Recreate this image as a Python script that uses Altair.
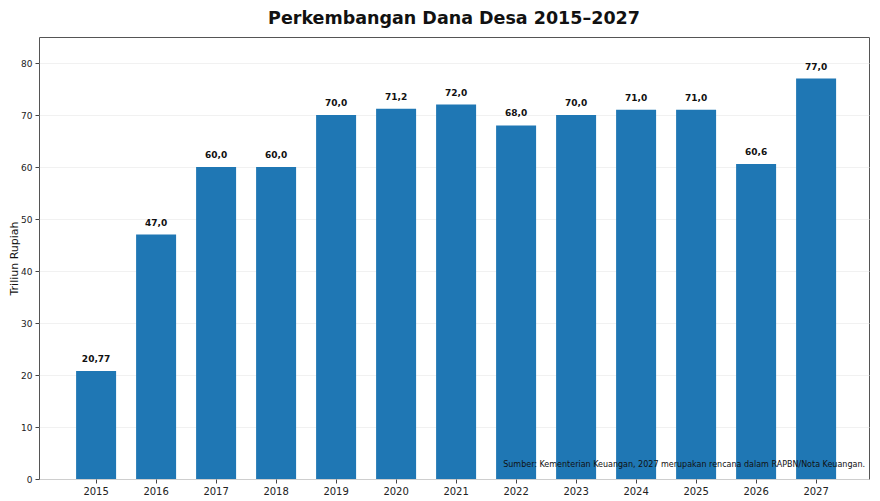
import altair as alt
import pandas as pd

years = ["2015", "2016", "2017", "2018", "2019", "2020", "2021", "2022", "2023", "2024", "2025", "2026", "2027"]
values = [20.77, 47.0, 60.0, 60.0, 70.0, 71.2, 72.0, 68.0, 70.0, 71.0, 71.0, 60.6, 77.0]
labels = ["20,77", "47,0", "60,0", "60,0", "70,0", "71,2", "72,0", "68,0", "70,0", "71,0", "71,0", "60,6", "77,0"]
title_text = "Perkembangan Dana Desa 2015–2027"
y_title = "Triliun Rupiah"
source_text = "Sumber: Kementerian Keuangan, 2027 merupakan rencana dalam RAPBN/Nota Keuangan."

df = pd.DataFrame({"year": years, "value": values, "label": labels})

W, H = 830, 442
FONT = "DejaVu Sans"

x = alt.X("year:N", title=None, sort=years,
          scale=alt.Scale(paddingInner=0.3333, paddingOuter=0.5833, align=0.53),
          axis=alt.Axis(labelAngle=0, labelFontSize=10, labelColor="#222", tickColor="#444",
                        tickSize=4, domain=False, labelPadding=3))
y = alt.Y("value:Q", title=y_title,
          scale=alt.Scale(domain=[0, 85], nice=False, zero=True),
          axis=alt.Axis(values=[0, 10, 20, 30, 40, 50, 60, 70, 80], labelFontSize=9, labelColor="#222",
                        tickColor="#444", tickSize=4, domain=False, grid=True, gridColor="#eeeeee",
                        gridWidth=0.8, titleFontSize=11, titleFontWeight="normal", titleColor="#111",
                        titlePadding=1, labelPadding=3))

base = alt.Chart(df)
bars = base.mark_bar(color="#1f77b4").encode(x=x, y=y)
text = base.mark_text(dy=-7, fontSize=9, fontWeight="bold", font=FONT, color="#111", baseline="bottom").encode(
    x=alt.X("year:N", sort=years), y="value:Q", text="label:N")
src = alt.Chart(pd.DataFrame({"t": [source_text]})).mark_text(
    align="right", baseline="middle", fontSize=8, font=FONT, color="#111").encode(
    x=alt.value(W - 4), y=alt.value(H - 14), text="t:N")

chart = alt.layer(bars, text, src).properties(
    width=W, height=H,
    title=alt.TitleParams(title_text, fontSize=17.5, fontWeight="bold", font=FONT, color="#111",
                          anchor="middle", offset=10),
    autosize=alt.AutoSizeParams(type="none"),
    padding={"left": 31, "top": 29, "right": 3, "bottom": 24},
).configure_view(stroke="#555", strokeWidth=1).configure_axis(labelFont=FONT, titleFont=FONT)

chart.save("out.html", embed_options={"renderer": "svg", "actions": False})
